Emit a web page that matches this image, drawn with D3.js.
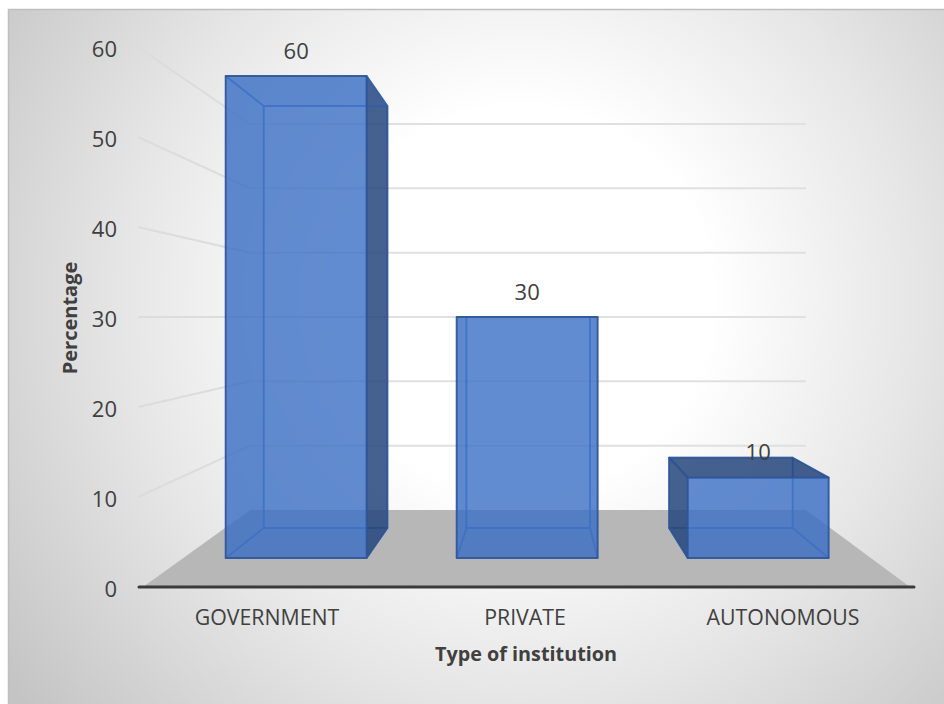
<!DOCTYPE html>
<html><head><meta charset="utf-8">
<script src="https://cdn.jsdelivr.net/npm/d3@7"></script>
<style>html,body{margin:0;padding:0;background:#fff}svg{display:block}text{font-family:"Open Sans",sans-serif;fill:#404040}</style>
</head><body><svg id="c" width="944" height="704"></svg>
<script>
const categories = ["GOVERNMENT", "PRIVATE", "AUTONOMOUS"];
const values = [60, 30, 10];
const yTicks = [0, 10, 20, 30, 40, 50, 60];
const xTitle = "Type of institution";
const yTitle = "Percentage";

const svg = d3.select("#c");
const defs = svg.append("defs");
const g0 = defs.append("radialGradient").attr("id","bg").attr("gradientUnits","userSpaceOnUse")
  .attr("cx",520).attr("cy",300).attr("r",640);
[[0,"#ffffff"],[0.3,"#ffffff"],[0.62,"#e6e6e6"],[1,"#c4c4c4"]].forEach(s=>g0.append("stop").attr("offset",s[0]).attr("stop-color",s[1]));
svg.append("rect").attr("x",8).attr("y",9).attr("width",936).attr("height",695).attr("fill","url(#bg)");
svg.append("path").attr("d","M8.5,704V9.5H944").attr("fill","none").attr("stroke","#bfbfbf").attr("stroke-width",1.5);

// depth t: 0 = front plane, 1 = back wall
const yAt = t => d3.scaleLinear().domain([0,60]).range([587+(510-587)*t, 47+(124-47)*t]);
const xAt = t => d3.scaleLinear().domain([0,1]).range([138+(250-138)*t, 912+(806-912)*t]);
const band = d3.scaleBand().domain(categories).range([-0.001,1.004]).paddingInner(0.39).paddingOuter(0.2);
const tF = 0.377, tB = 0.766;
const P = (u,v,t) => [xAt(t)(u), yAt(t)(v)];
const poly = pts => "M"+pts.map(p=>p.map(n=>n.toFixed(1)).join(",")).join("L")+"Z";

// floor
svg.append("path").attr("d",poly([[143,587],P(0,0,1),P(1,0,1),[910,587]])).attr("fill","#b7b7b7");
// gridlines on back wall and side wall
const gl = yTicks.filter(d=>d>0);
svg.append("g").selectAll("line").data(gl).join("line")
  .attr("x1",xAt(1)(0)).attr("x2",xAt(1)(1)).attr("y1",d=>yAt(1)(d)).attr("y2",d=>yAt(1)(d))
  .attr("stroke","#e0e0e0").attr("stroke-width",2);
svg.append("g").selectAll("line").data(gl).join("line")
  .attr("x1",xAt(0)(0)).attr("x2",xAt(1)(0)).attr("y1",d=>yAt(0)(d)).attr("y2",d=>yAt(1)(d))
  .attr("stroke","#dcdcdc").attr("stroke-width",2);

// baseline
svg.append("line").attr("x1",139).attr("x2",914).attr("y1",587).attr("y2",587)
  .attr("stroke","#3a3a3a").attr("stroke-width",3).attr("stroke-linecap","round");

// bars
const BACK="rgba(61,115,200,0.05)", INNER="rgba(60,100,180,0.12)", FRONT="rgba(61,113,198,0.8)",
      DARK="rgba(38,70,124,0.85)", EDGE="rgba(47,85,151,0.85)", EDGE2="rgba(52,100,190,0.55)";
const bars = svg.append("g");
categories.forEach((c,i)=>{
  const u0=band(c), u1=u0+band.bandwidth(), v=values[i];
  const q=P;
  const face=(pts,fill,stroke)=>bars.append("path").attr("d",poly(pts)).attr("fill",fill).attr("stroke",stroke).attr("stroke-width",1.8).attr("stroke-linejoin","round");
  const outerL = xAt(tB)(u0) < xAt(tF)(u0);
  const outerR = xAt(tB)(u1) > xAt(tF)(u1);
  const outerT = yAt(tB)(v) < yAt(tF)(v);
  face([q(u0,0,tB),q(u1,0,tB),q(u1,v,tB),q(u0,v,tB)],BACK,EDGE2);
  face([q(u0,0,tF),q(u1,0,tF),q(u1,0,tB),q(u0,0,tB)],INNER,EDGE2);
  face([q(u0,0,tF),q(u0,v,tF),q(u0,v,tB),q(u0,0,tB)],outerL?DARK:INNER,outerL?EDGE:EDGE2);
  face([q(u1,0,tF),q(u1,v,tF),q(u1,v,tB),q(u1,0,tB)],outerR?DARK:INNER,outerR?EDGE:EDGE2);
  face([q(u0,v,tF),q(u1,v,tF),q(u1,v,tB),q(u0,v,tB)],outerT?DARK:INNER,outerT?EDGE:EDGE2);
  face([q(u0,0,tF),q(u1,0,tF),q(u1,v,tF),q(u0,v,tF)],FRONT,EDGE);
});

// y axis
const yAxis = d3.axisLeft(yAt(0)).tickValues(yTicks).tickSize(0).tickPadding(0);
const ax = svg.append("g").attr("transform","translate(117,2)").call(yAxis);
ax.select(".domain").remove();
ax.selectAll("text").attr("font-size",22).attr("font-family",'"Open Sans",sans-serif').attr("fill","#404040");

// x axis labels
const xAxis = d3.axisBottom(d3.scaleBand().domain(categories).range([xAt(0)(0),xAt(0)(1)])).tickSize(0).tickPadding(0);
const bx = svg.append("g").attr("transform","translate(0,610)").call(xAxis);
bx.select(".domain").remove();
bx.selectAll("text").attr("font-size",21.3).attr("font-family",'"Open Sans",sans-serif').attr("fill","#404040");

// data labels
svg.append("g").selectAll("text").data(values).join("text")
  .attr("x",(d,i)=>xAt(tF)(band(categories[i])+band.bandwidth()/2))
  .attr("y",d=>yAt(tF)(d)-25).attr("dy","0.35em")
  .attr("text-anchor","middle").attr("font-size",22).text(d=>d);

// titles
svg.append("text").attr("x",526).attr("y",661).attr("text-anchor","middle")
  .attr("font-size",19.8).attr("font-weight",700).text(xTitle);
svg.append("text").attr("transform","translate(77,318) rotate(-90)").attr("text-anchor","middle")
  .attr("font-size",20).attr("font-weight",700).text(yTitle);
</script></body></html>
